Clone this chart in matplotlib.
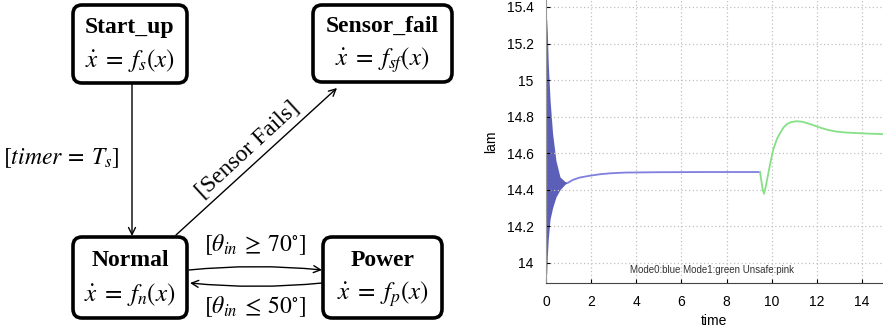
"""plot.py — hybrid automaton diagram + lam(time) simulation trace."""

import matplotlib
matplotlib.use("Agg")
import matplotlib.pyplot as plt
from matplotlib.patches import FancyBboxPatch, FancyArrowPatch

plt.rcParams["mathtext.fontset"] = "stix"

# ---- diagram content
node_names = ["Start_up", "Sensor_fail", "Normal", "Power"]
node_dyn = [r"$\dot{x} \;=\; f_s(x)$", r"$\dot{x} \;=\; f_{sf}(x)$",
            r"$\dot{x} \;=\; f_n(x)$", r"$\dot{x} \;=\; f_p(x)$"]
guard_timer = r"$[timer \:=\: T_s]$"
guard_sensor = "[Sensor Fails]"
guard_hot = r"$[\theta_{in} \:\geq\: 70^{\circ}]$"
guard_cold = r"$[\theta_{in} \:\leq\: 50^{\circ}]$"

# ---- simulation trace
# Mode0 start-up oscillation envelope
t_osc = [0.0, 0.03, 0.06, 0.10, 0.18, 0.29, 0.44, 0.62, 0.84, 0.99]
lam_osc_hi = [15.33, 15.33, 15.256, 15.09, 14.89, 14.71, 14.56, 14.47, 14.445, 14.44]
lam_osc_lo = [13.93, 13.94, 14.04, 14.13, 14.24, 14.30, 14.36, 14.40, 14.43, 14.44]
# Mode0 settled part
t_mode0 = [0.99, 1.21, 1.5, 1.95, 2.4, 2.84, 3.5, 5.0, 7.0, 9.0, 9.48]
lam_mode0 = [14.44, 14.455, 14.467, 14.477, 14.485, 14.49, 14.494, 14.496, 14.497, 14.497, 14.497]
# Mode1 after sensor failure
t_mode1 = [9.48, 9.54, 9.60, 9.66, 9.74, 9.85, 9.96, 10.07, 10.22, 10.37, 10.52, 10.66,
           10.85, 11.11, 11.35, 11.55, 11.8, 12.14, 12.5, 12.88, 13.3, 13.77, 14.3, 14.93]
lam_mode1 = [14.497, 14.45, 14.40, 14.378, 14.42, 14.49, 14.56, 14.62, 14.675, 14.71,
             14.74, 14.758, 14.77, 14.775, 14.772, 14.765, 14.755, 14.74, 14.727, 14.718,
             14.713, 14.71, 14.707, 14.704]
x_ticks = [0, 2, 4, 6, 8, 10, 12, 14]
y_ticks = [14, 14.2, 14.4, 14.6, 14.8, 15, 15.2, 15.4]
y_tick_labels = ["14", "14.2", "14.4", "14.6", "14.8", "15", "15.2", "15.4"]

W, H = 883, 331
fig = plt.figure(figsize=(W / 100, H / 100), dpi=100)

# ================= left: automaton (axes in pixel units)
ax = fig.add_axes([0, 0, 460 / W, 1])
ax.set_xlim(0, 460)
ax.set_ylim(H, 0)
ax.axis("off")

serif = "Liberation Serif"
# box centre x, centre y, width, height
boxes = [(130, 44, 114, 78), (382.5, 43.5, 139, 77),
         (130, 277.5, 114, 81), (382.5, 277.5, 119, 81)]
for name, dyn, (cx, cy, w, h) in zip(node_names, node_dyn, boxes):
    ax.add_patch(FancyBboxPatch((cx - w / 2, cy - h / 2), w, h,
                                boxstyle="round,pad=0,rounding_size=9",
                                fc="white", ec="black", lw=2.6))
    ax.text(cx, cy - 17, name, ha="center", va="center", fontsize=17,
            fontweight="bold", family=serif)
    ax.text(cx, cy + 17, dyn, ha="center", va="center", fontsize=18, family=serif)


def arrow(p0, p1, rad=0.0):
    ax.add_patch(FancyArrowPatch(p0, p1, arrowstyle="->,head_length=5,head_width=2.5",
                                 connectionstyle=f"arc3,rad={rad}",
                                 color="black", lw=1.0, shrinkA=0, shrinkB=0))


arrow((132, 83), (132, 236))
arrow((176, 235), (337, 88))
arrow((189, 270), (322, 270), rad=-0.05)
arrow((322, 283), (190, 283), rad=-0.05)

ax.text(120, 158, guard_timer, ha="right", va="center", fontsize=17, family=serif)
ax.text(248, 150, guard_sensor, ha="center", va="center", fontsize=17,
        family=serif, rotation=42.6, rotation_mode="anchor")
ax.text(255, 245, guard_hot, ha="center", va="center", fontsize=17, family=serif)
ax.text(255, 307, guard_cold, ha="center", va="center", fontsize=17, family=serif)

# ================= right: simulation plot
pl = fig.add_axes([546 / W, 48 / H, (W - 546) / W, (H - 48) / H])
pl.fill_between(t_osc, lam_osc_lo, lam_osc_hi, color="#5b5fb8", lw=0)
pl.plot(t_mode0, lam_mode0, color="#7f7fe0", lw=1.3)
pl.plot(t_mode1, lam_mode1, color="#86e086", lw=1.3)

pl.set_xlim(0, 14.93)
pl.set_ylim(13.89, 15.438)
pl.set_xticks(x_ticks)
pl.set_yticks(y_ticks)
pl.set_yticklabels(y_tick_labels)
pl.tick_params(direction="in", length=3, labelsize=10, colors="black")
pl.tick_params(axis="x", pad=9)
pl.tick_params(axis="y", pad=9)
for lab in pl.get_xticklabels() + pl.get_yticklabels():
    lab.set_family("Liberation Sans")
pl.grid(True, color="#c0c0c0", ls=(0, (1, 2)), lw=0.9)
pl.spines["top"].set_visible(False)
pl.spines["right"].set_visible(False)
pl.spines["left"].set_color("#999999")
pl.spines["bottom"].set_color("#444444")
pl.set_xlabel("time", family="Liberation Sans", fontsize=10, labelpad=3)
pl.set_ylabel("lam", family="Liberation Sans", fontsize=10, labelpad=6)
pl.text(7.37, 13.96, "Mode0:blue Mode1:green Unsafe:pink", ha="center", va="center",
        fontsize=7, family="Liberation Sans", color="#333333")

fig.savefig("out.png", dpi=100)
